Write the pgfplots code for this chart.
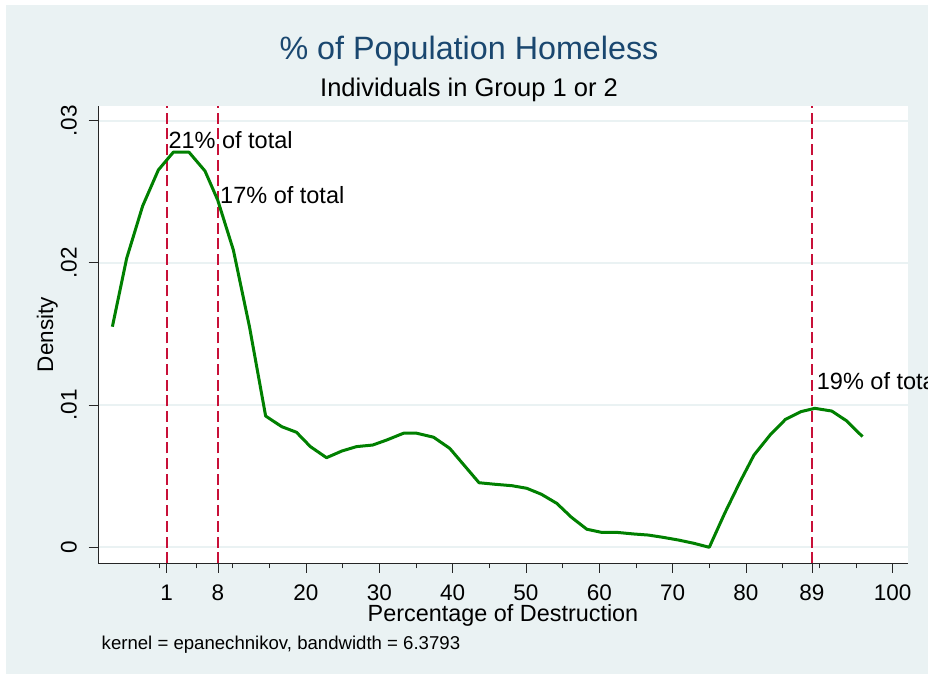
\documentclass[border=0pt]{standalone}
\usepackage{pgfplots}
\pgfplotsset{compat=1.18}
\usepackage{fontspec}
\setmainfont{Liberation Sans}
\definecolor{bgc}{RGB}{234,242,243}
\definecolor{navy}{RGB}{26,71,111}
\definecolor{sgreen}{RGB}{0,128,0}
\definecolor{cran}{RGB}{200,16,56}
\begin{document}
\begin{tikzpicture}[x=1bp,y=1bp]
\useasboundingbox (0,0) rectangle (928,674);
\clip (0,0) rectangle (928,674);
\fill[white] (0,0) rectangle (928,674);
\fill[bgc] (6,0) rectangle (928,669);
\node[anchor=base, text=navy, font=\fontsize{32.3bp}{38bp}\selectfont, inner sep=0pt] at (469,614) {\% of Population Homeless};
\node[anchor=base, font=\fontsize{25.5bp}{30bp}\selectfont, inner sep=0pt] at (469,577) {Individuals in Group 1 or 2};
\node[anchor=base west, font=\fontsize{18.6bp}{22bp}\selectfont, inner sep=0pt] at (101.5,24) {kernel = epanechnikov, bandwidth = 6.3793};
\begin{axis}[at={(98bp,110.7bp)}, anchor=south west, scale only axis,
  width=810bp, height=457.3bp,
  xmin=-8.36, xmax=102.1, ymin=-0.001125, ymax=0.03103,
  axis background/.style={fill=white},
  axis x line=bottom, axis y line=left,
  axis line style={-, black!85, line width=0.8bp},
  xtick={1,8,20,30,40,50,60,70,80,89,100},
  xticklabels={1,8,20,30,40,50,60,70,80,89,100},
  minor xtick={0,5,10,15,25,35,45,55,65,75,85,90,95},
  ytick={0,0.01,0.02,0.03}, yticklabels={0,.01,.02,.03},
  scaled y ticks=false, scaled x ticks=false,
  tick align=outside, major tick length=9.5bp, minor tick length=5bp,
  every tick/.style={black!85, line width=0.8bp},
  ymajorgrids, grid style={bgc, line width=2bp},
  xticklabel style={font=\fontsize{22.5bp}{27bp}\selectfont, anchor=north, inner sep=0pt, yshift=-12bp},
  yticklabel style={font=\fontsize{22.5bp}{27bp}\selectfont, rotate=90, anchor=south, inner sep=0pt},
  yticklabel shift=11.5bp,
  xlabel={Percentage of Destruction},
  xlabel style={font=\fontsize{23.4bp}{28bp}\selectfont, inner sep=0pt, anchor=base, at={([yshift=-58bp]axis description cs:0.5,0)}},
  ylabel={Density},
  ylabel style={font=\fontsize{22.5bp}{27bp}\selectfont, inner sep=0pt, anchor=base, at={([xshift=-45bp]axis description cs:0,0.5)}},
  clip=false]
\addplot[cran, line width=2.2bp, dash pattern=on 11bp off 4.7bp] coordinates {(1,-0.001125) (1,0.03103)};
\addplot[cran, line width=2.2bp, dash pattern=on 11bp off 4.7bp] coordinates {(8,-0.001125) (8,0.03103)};
\addplot[cran, line width=2.2bp, dash pattern=on 11bp off 4.7bp] coordinates {(89,-0.001125) (89,0.03103)};
\addplot[sgreen, line width=3bp, line join=round] coordinates {
(-6.4,0.01551) (-4.45,0.02032) (-2.27,0.0240) (-0.13,0.02653) (1.91,0.02778)
(4.05,0.02778) (6.23,0.02646) (7.96,0.02442) (10.1,0.0209) (12.3,0.0155)
(14.5,0.00923) (16.7,0.00848) (18.7,0.00809) (20.6,0.00708) (22.8,0.0063)
(24.9,0.00677) (26.9,0.00708) (29.1,0.00719) (31.0,0.00754) (33.3,0.00802)
(35.1,0.00802) (37.4,0.00774) (39.6,0.00696) (41.6,0.00575) (43.6,0.00454)
(45.8,0.00443) (48.1,0.00433) (50.1,0.00415) (52.1,0.00373) (54.2,0.00309)
(56.2,0.00211) (58.3,0.00127) (60.3,0.00105) (62.4,0.00105) (64.6,0.00094)
(66.7,0.00086) (68.7,0.0007) (70.8,0.00051) (72.9,0.00028) (75.0,0.0)
(77.1,0.00239) (79.2,0.00461) (81.1,0.00649) (83.3,0.0079) (85.4,0.009)
(87.5,0.00954) (89.4,0.00977) (91.7,0.00958) (93.7,0.0089) (95.9,0.00778)
};
\node[anchor=base west, inner sep=0pt, font=\fontsize{23.5bp}{28bp}\selectfont] at (axis cs:1.23,0.02806) {21\% of total};
\node[anchor=base west, inner sep=0pt, font=\fontsize{23.5bp}{28bp}\selectfont] at (axis cs:8.28,0.02414) {17\% of total};
\node[anchor=base west, inner sep=0pt, font=\fontsize{23.5bp}{28bp}\selectfont] at (axis cs:89.65,0.01111) {19\% of total};
\end{axis}
\end{tikzpicture}
\end{document}
